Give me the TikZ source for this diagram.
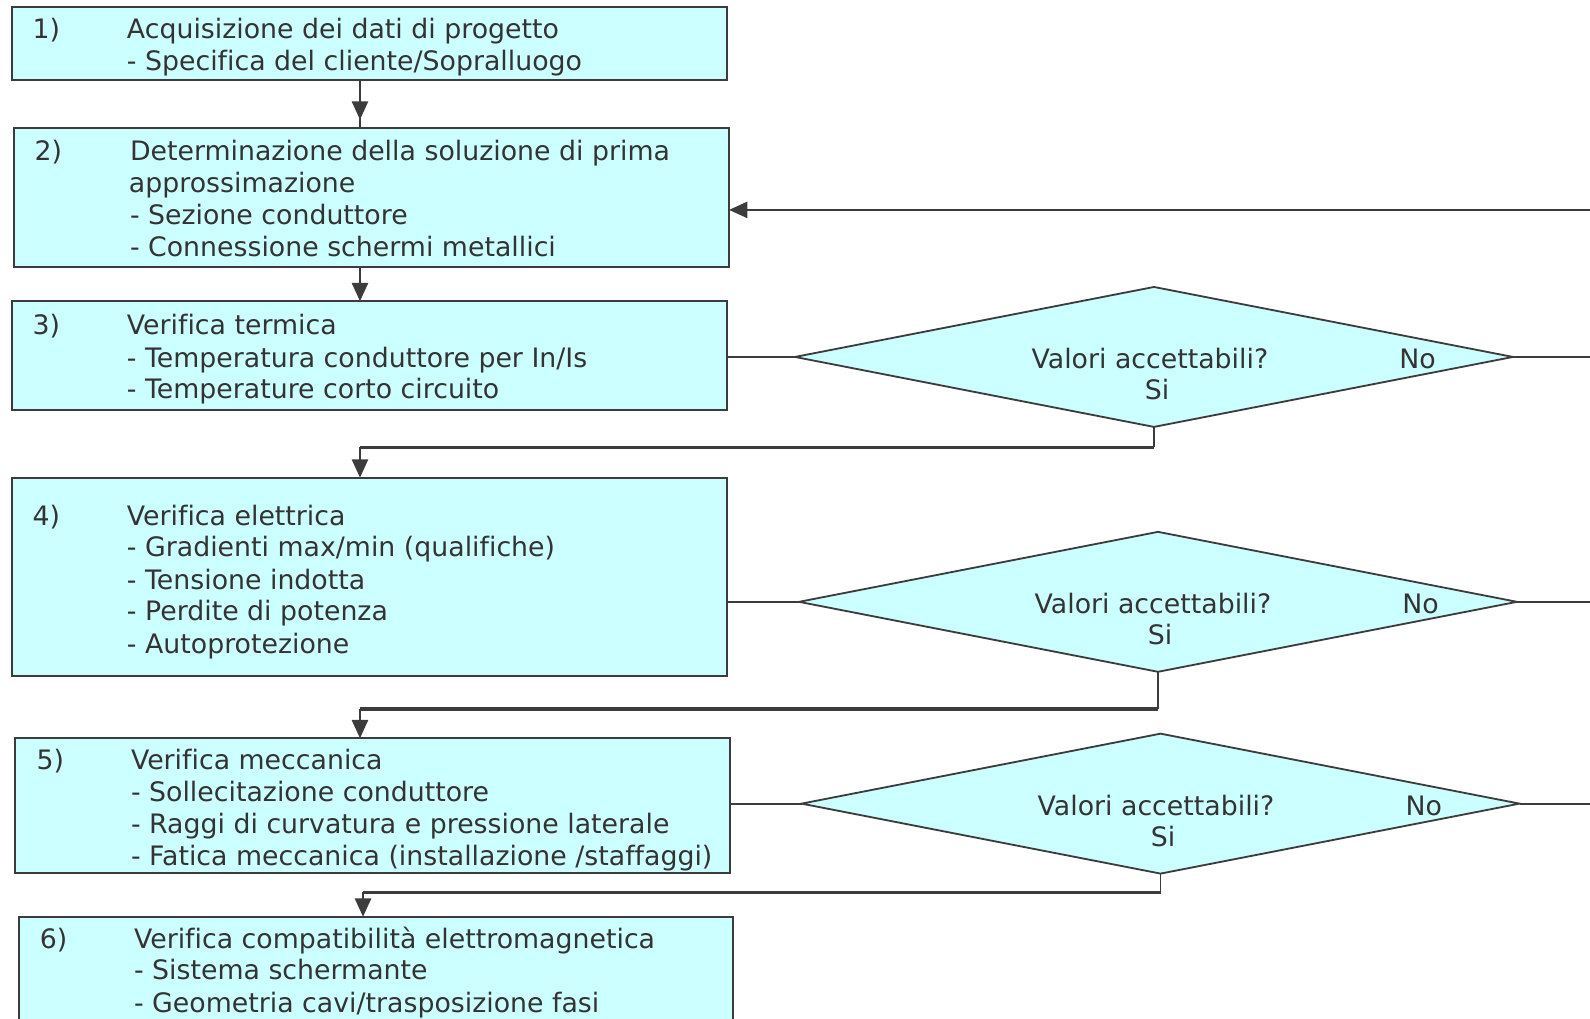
\documentclass[tikz,border=0pt]{standalone}
\usepackage{fontspec}
\setmainfont{DejaVu Sans}[Ligatures={NoCommon}]
\usetikzlibrary{shapes.geometric,arrows.meta}
\definecolor{boxfill}{RGB}{204,255,255}
\definecolor{ink}{RGB}{60,60,60}
\definecolor{txtc}{RGB}{51,51,51}
\begin{document}
\begin{tikzpicture}[x=1pt,y=-1pt,
  stepbox/.style={draw=ink,line width=1.8pt,fill=boxfill,inner sep=0pt,outer sep=0pt},
  txt/.style={anchor=base west,inner sep=0pt,text=txtc,font=\fontsize{26.4}{31.5}\selectfont},
  ctxt/.style={anchor=base,inner sep=0pt,text=txtc,font=\fontsize{26.4}{31.5}\selectfont},
  dec/.style={diamond,draw=ink,line width=1.8pt,fill=boxfill,inner sep=0pt,outer sep=0pt,
    minimum width=708pt,minimum height=138pt,aspect=5.13},
  tip/.style={-{Triangle[length=18pt,width=16pt]}},
  arr/.style={draw=ink,line width=1.8pt,tip},
  ln/.style={draw=ink,line width=1.8pt},
  hln/.style={draw=ink,line width=2.6pt}]
\useasboundingbox (0,0) rectangle (1568,1004);
% boxes
\node[stepbox,minimum width=705pt,minimum height=72pt] (b1) at (364.5,43) {};
\node[stepbox,minimum width=705pt,minimum height=137pt] (b2) at (366.5,194.5) {};
\node[stepbox,minimum width=705pt,minimum height=107pt] (b3) at (364.5,350.5) {};
\node[stepbox,minimum width=705pt,minimum height=196pt] (b4) at (364.5,569) {};
\node[stepbox,minimum width=705pt,minimum height=133pt] (b5) at (367.5,794.5) {};
\node[stepbox,minimum width=704pt,minimum height=112pt] (b6) at (371,960) {};
% diamonds
\node[dec] (d1) at (1138,352) {};
\node[dec] (d2) at (1142,593.5) {};
\node[dec] (d3) at (1144.5,792.5) {};
% box texts
\node[txt] (n1) at (32,38) {1)};
\node[txt] (t1a) at (125,38) {Acquisizione dei dati di progetto};
\node[txt] (t1b) at (125,70) {- Specifica del cliente/Sopralluogo};
\node[txt] (n2) at (34,158) {2)};
\node[txt] (t2a) at (128,158) {Determinazione della soluzione di prima};
\node[txt] (t2b) at (127,190) {approssimazione};
\node[txt] (t2c) at (128,221) {- Sezione conduttore};
\node[txt] (t2d) at (128,253) {- Connessione schermi metallici};
\node[txt] (n3) at (32,330) {3)};
\node[txt] (t3a) at (125,330) {Verifica termica};
\node[txt] (t3b) at (125,362) {- Temperatura conduttore per In/Is};
\node[txt] (t3c) at (125,393) {- Temperature corto circuito};
\node[txt] (n4) at (32,518) {4)};
\node[txt] (t4a) at (125,518) {Verifica elettrica};
\node[txt] (t4b) at (125,549) {- Gradienti max/min (qualifiche)};
\node[txt] (t4c) at (125,581) {- Tensione indotta};
\node[txt] (t4d) at (125,612) {- Perdite di potenza};
\node[txt] (t4e) at (125,644) {- Autoprotezione};
\node[txt] (n5) at (36,759) {5)};
\node[txt] (t5a) at (129,759) {Verifica meccanica};
\node[txt] (t5b) at (129,790) {- Sollecitazione conduttore};
\node[txt] (t5c) at (129,822) {- Raggi di curvatura e pressione laterale};
\node[txt] (t5d) at (129,854) {- Fatica meccanica (installazione /staffaggi)};
\node[txt] (n6) at (39,935) {6)};
\node[txt] (t6a) at (132,935) {Verifica compatibilità elettromagnetica};
\node[txt] (t6b) at (132,966) {- Sistema schermante};
\node[txt] (t6c) at (132,998) {- Geometria cavi/trasposizione fasi};
% diamond texts
\node[ctxt] (q1) at (1134,363) {Valori accettabili?};
\node[ctxt] (s1) at (1141,394) {Si};
\node[ctxt] (o1) at (1398,363) {No};
\node[ctxt] (q2) at (1137,605) {Valori accettabili?};
\node[ctxt] (s2) at (1144,636) {Si};
\node[ctxt] (o2) at (1401,605) {No};
\node[ctxt] (q3) at (1140,804) {Valori accettabili?};
\node[ctxt] (s3) at (1147,835) {Si};
\node[ctxt] (o3) at (1404,804) {No};
% helper coordinates
\coordinate (ax) at (355,0);
\coordinate (ax6) at (358,0);
\coordinate (e1) at (1568,352);
\coordinate (e2) at (1568,593.5);
\coordinate (e3) at (1568,792.5);
\coordinate (fb) at (1568,207);
\coordinate (h1) at (0,441);
\coordinate (h2) at (0,699);
\coordinate (h3) at (0,880);
% connectors
\draw[ln] (b1.south -| ax) -- (b2.north -| ax);
\draw[arr,shorten >=8pt] (b1.south -| ax) -- (b2.north -| ax);
\draw[arr] (b2.south -| ax) -- (b3.north -| ax);
\draw[ln] (b3.east |- d1.west) -- (d1.west);
\draw[ln] (d1.east) -- (e1);
\draw[ln] (b4.east |- d2.west) -- (d2.west);
\draw[ln] (d2.east) -- (e2);
\draw[ln] (b5.east |- d3.west) -- (d3.west);
\draw[ln] (d3.east) -- (e3);
\draw[arr] (fb) -- (fb -| b2.east);
\draw[ln,line width=1.3pt] (d1.south) -- (h1 -| d1.south);
\draw[hln] (h1 -| d1.south) -- (h1 -| ax);
\draw[arr] (h1 -| ax) -- (b4.north -| ax);
\draw[ln,line width=1.3pt] (d2.south) -- (h2 -| d2.south);
\draw[hln,line width=3.4pt] (h2 -| d2.south) -- (h2 -| ax);
\draw[arr] (h2 -| ax) -- (b5.north -| ax);
\draw[ln,line width=1.3pt] (d3.south) -- (h3 -| d3.south);
\draw[hln] (h3 -| d3.south) -- (h3 -| ax6);
\draw[arr] (h3 -| ax6) -- (b6.north -| ax6);
\end{tikzpicture}
\end{document}
